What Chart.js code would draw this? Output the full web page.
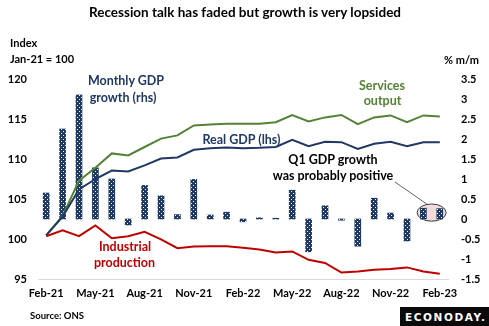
<!DOCTYPE html>
<html>
<head>
<meta charset="utf-8">
<script src="https://cdn.jsdelivr.net/npm/chart.js@4"></script>
<style>
  html, body { margin: 0; padding: 0; background: #fff; }
  #wrap { position: relative; width: 489px; height: 326px; overflow: hidden; font-family: Lato, "Open Sans", sans-serif; font-weight: bold; }
  #c { position: absolute; left: 0; top: 0; }
  .t { position: absolute; white-space: nowrap; line-height: 1; }
  .ctr { transform: translate(-50%, -50%); text-align: center; }
  .lft { transform: translateY(-50%); }
</style>
</head>
<body>
<div id="wrap">
  <canvas id="c" width="489" height="326"></canvas>
  <div class="t ctr" style="left:245px;top:13px;font-size:13.5px;color:#000;">Recession talk has faded but growth is very lopsided</div>
  <div class="t lft" style="left:10px;top:42px;font-size:11px;color:#000;">Index</div>
  <div class="t lft" style="left:10px;top:58px;font-size:11px;color:#000;">Jan-21 = 100</div>
  <div class="t lft" style="left:444px;top:59px;font-size:11px;color:#000;">% m/m</div>
  <div class="t ctr" style="left:126px;top:81px;font-size:12.5px;color:#1f3864;">Monthly GDP</div>
  <div class="t ctr" style="left:123px;top:97.5px;font-size:12.5px;color:#1f3864;">growth (rhs)</div>
  <div class="t ctr" style="left:241.5px;top:140px;font-size:12.5px;color:#1f3864;">Real GDP (lhs)</div>
  <div class="t ctr" style="left:382px;top:86px;font-size:12.5px;color:#548235;">Services</div>
  <div class="t ctr" style="left:382.5px;top:101px;font-size:12.5px;color:#548235;">output</div>
  <div class="t ctr" style="left:333px;top:160px;font-size:12.5px;color:#000;">Q1 GDP growth</div>
  <div class="t ctr" style="left:333px;top:175.5px;font-size:12.5px;color:#000;">was probably positive</div>
  <div class="t ctr" style="left:125px;top:247px;font-size:12.5px;color:#c00000;">Industrial</div>
  <div class="t ctr" style="left:124.5px;top:263px;font-size:12.5px;color:#c00000;">production</div>
  <div class="t lft" style="left:30px;top:315.5px;font-size:9.5px;color:#000;">Source: ONS</div>
  <div style="position:absolute;left:400px;top:307px;width:89px;height:19px;background:#0a0a0a;"></div>
  <div class="t lft" style="left:405px;top:316.5px;font-family:'DejaVu Sans',sans-serif;font-size:10.5px;letter-spacing:1.6px;color:#fff;">ECONODAY.</div>
</div>
<script>
// Monthly series, Feb-21 to Feb-23
const months = ['Feb-21','Mar-21','Apr-21','May-21','Jun-21','Jul-21','Aug-21','Sep-21','Oct-21','Nov-21','Dec-21',
  'Jan-22','Feb-22','Mar-22','Apr-22','May-22','Jun-22','Jul-22','Aug-22','Sep-22','Oct-22','Nov-22','Dec-22',
  'Jan-23','Feb-23'];

// Index levels, Jan-21 = 100 (left axis)
const servicesOutput = [100.45, 102.9, 107.3, 108.9, 110.7, 110.45, 111.5, 112.55, 112.95, 114.2, 114.3,
  114.4, 114.4, 114.4, 114.6, 115.5, 114.7, 115.2, 115.5, 114.35, 115.2, 115.45, 114.6, 115.45, 115.3];
const realGdp = [100.45, 102.8, 106.2, 107.5, 108.55, 108.45, 109.2, 110.05, 110.2, 111.15, 111.35,
  111.45, 111.35, 111.4, 111.5, 112.4, 111.6, 112.15, 112.1, 111.25, 111.9, 112.15, 111.6, 112.1, 112.1];
const industrialProduction = [100.35, 101.1, 100.35, 101.7, 100.1, 100.35, 100.9, 99.95, 98.85, 99.05, 99.1,
  99.1, 98.9, 98.7, 98.3, 98.45, 97.4, 97.0, 95.8, 95.95, 96.15, 96.25, 96.45, 95.95, 95.65];

// Month-on-month GDP growth, % (right axis)
const gdpGrowth = [0.65, 2.25, 3.1, 1.28, 1.0, -0.15, 0.84, 0.58, 0.11, 0.99, 0.1,
  0.17, -0.07, 0.03, 0.02, 0.72, -0.82, 0.33, -0.03, -0.68, 0.52, 0.15, -0.55, 0.27, 0.26];

// Axis ranges and tick steps
const leftTicks = { min: 95, max: 120, step: 5 };
const rightTicks = { min: -1.5, max: 3.5, step: 0.5 };

const NAVY = '#1f3864', GREEN = '#548235', RED = '#c00000';
const tickFont = { family: 'Lato, "Open Sans", sans-serif', size: 11, weight: 'bold' };

// Dotted navy fill for the growth bars
function dottedPattern() {
  const p = document.createElement('canvas');
  p.width = 4; p.height = 4;
  const g = p.getContext('2d');
  g.fillStyle = NAVY; g.fillRect(0, 0, 4, 4);
  g.fillStyle = '#ffffff';
  g.fillRect(1, 1, 1, 1);
  g.fillRect(3, 3, 1, 1);
  return g.createPattern(p, 'repeat');
}

// Highlight ellipse around the Q1-23 months, with a leader line to its caption
const q1Highlight = {
  id: 'q1Highlight',
  beforeDatasetsDraw(chart) {
    const { ctx, scales } = chart;
    const cx = (scales.x.getPixelForValue(months.length - 2) + scales.x.getPixelForValue(months.length - 1)) / 2;
    const cy = scales.yR.getPixelForValue(0.16);
    const rx = 14.5, ry = 8.6;
    ctx.save();
    ctx.beginPath();
    ctx.ellipse(cx, cy, rx, ry, 0, 0, Math.PI * 2);
    ctx.fillStyle = '#f2dcdb';
    ctx.fill();
    ctx.lineWidth = 1;
    ctx.strokeStyle = '#3a3a3a';
    ctx.stroke();
    ctx.beginPath();
    ctx.moveTo(395, 182);
    ctx.lineTo(cx - 4.5, cy - ry + 0.3);
    ctx.lineWidth = 0.8;
    ctx.strokeStyle = '#3a3a3a';
    ctx.stroke();
    ctx.restore();
  }
};

const lineStyle = (color) => ({ borderColor: color, backgroundColor: color, borderWidth: 2, pointRadius: 0, tension: 0, fill: false });

new Chart(document.getElementById('c'), {
  type: 'bar',
  data: {
    labels: months,
    datasets: [
      Object.assign({ type: 'line', label: 'Industrial production', data: industrialProduction, yAxisID: 'yL', order: 1 }, lineStyle(RED)),
      Object.assign({ type: 'line', label: 'Real GDP (lhs)', data: realGdp, yAxisID: 'yL', order: 1 }, lineStyle(NAVY)),
      Object.assign({ type: 'line', label: 'Services output', data: servicesOutput, yAxisID: 'yL', order: 1 }, lineStyle(GREEN)),
      { type: 'bar', label: 'Monthly GDP growth (rhs)', data: gdpGrowth, yAxisID: 'yR', order: 2,
        backgroundColor: dottedPattern(), borderWidth: 0, barThickness: 6 }
    ]
  },
  options: {
    responsive: false,
    animation: false,
    devicePixelRatio: 1,
    layout: { padding: { top: 79, bottom: 0, left: 0, right: 0 } },
    plugins: { legend: { display: false }, tooltip: { enabled: false }, title: { display: false } },
    scales: {
      x: {
        type: 'category',
        offset: true,
        grid: { display: false, drawTicks: false },
        border: { display: true, color: '#d9d9d9', width: 1 },
        ticks: {
          autoSkip: false, maxRotation: 0, minRotation: 0, padding: 8,
          font: tickFont, color: '#000',
          callback: (v, i) => (i % 3 === 0 ? months[i] : '')
        },
        afterFit: (s) => { s.height = 47; }
      },
      yL: {
        position: 'left',
        min: leftTicks.min, max: leftTicks.max,
        grid: { display: false, drawTicks: false },
        border: { display: false },
        ticks: { stepSize: leftTicks.step, padding: 11, font: tickFont, color: '#000' },
        afterFit: (s) => { s.width = 38; }
      },
      yR: {
        position: 'right',
        min: rightTicks.min, max: rightTicks.max,
        grid: { display: false, drawTicks: false },
        border: { display: false },
        ticks: {
          stepSize: rightTicks.step, padding: 13, font: tickFont, color: '#000',
          callback: (v) => String(Number(Number(v).toFixed(1)))
        },
        afterFit: (s) => { s.width = 41; }
      }
    }
  },
  plugins: [q1Highlight]
});
</script>
</body>
</html>
